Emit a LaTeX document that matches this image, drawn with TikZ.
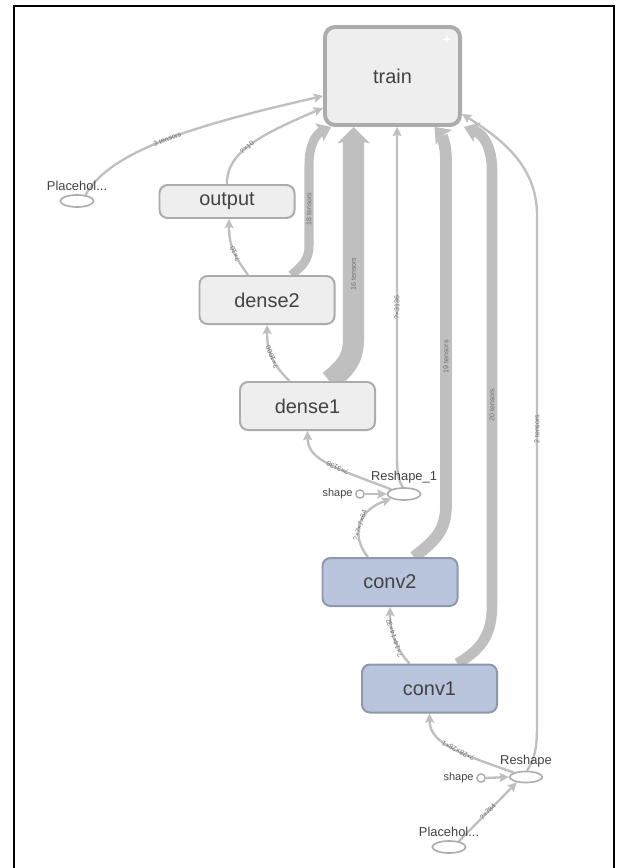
\documentclass[tikz,border=0pt]{standalone}
\usepackage{fontspec}
\setmainfont{Liberation Sans}
\usepackage{tikz}
\usetikzlibrary{arrows.meta,shapes.geometric,calc}
\pgfdeclarelayer{edges}
\pgfsetlayers{edges,main}

\definecolor{edgegray}{HTML}{BFBFBF}
\definecolor{boxfill}{HTML}{EEEEEE}
\definecolor{boxline}{HTML}{ACACAC}
\definecolor{convfill}{HTML}{B9C4DD}
\definecolor{convline}{HTML}{8E98AD}
\definecolor{txtgray}{HTML}{424242}
\definecolor{lblgray}{HTML}{707070}

\tikzset{
  metabox/.style={draw=boxline, fill=boxfill, line width=1.7pt, rounded corners=0.24cm,
    minimum width=4.05cm, minimum height=1.44cm, text=txtgray, font=\fontsize{17}{17}\selectfont},
  convbox/.style={metabox, draw=convline, fill=convfill},
  opnode/.style={ellipse, draw=boxline, line width=1.4pt, minimum width=1cm, minimum height=0.36cm, inner sep=0pt},
  shapenode/.style={circle, draw=boxline, line width=1.2pt, minimum size=0.25cm, inner sep=0pt},
  oplabel/.style={text=txtgray, font=\fontsize{11}{11}\selectfont, inner sep=1pt, label distance=2pt},
  shapelbl/.style={text=txtgray, font=\fontsize{9.4}{9.4}\selectfont, inner sep=1pt, label distance=1pt},
  flow/.style={draw=edgegray, line width=2pt, -{Stealth[length=8pt,width=8pt,inset=1.5pt,line width=0pt]}},
  bundle/.style={draw=edgegray, line width=#1},
  elabel/.style={text=lblgray, font=\fontsize{6}{6}\selectfont, sloped, allow upside down, inner sep=0pt},
}

\begin{document}
\begin{tikzpicture}[x=0.03cm,y=-0.03cm]
  \useasboundingbox (0,0) rectangle (618,868);
  % frame
  \draw[line width=1.7pt] (14,868) -- (14,6) -- (614,6) -- (614,868);
  % groups
  \node[metabox, minimum height=2.94cm, line width=3.4pt, rounded corners=0.3cm] (train) at (392.5,76) {train};
  \node[text=white, font=\bfseries\fontsize{12}{12}\selectfont] (plus) at (447,40) {+};
  \node[metabox, minimum height=0.99cm] (output) at (227,201.5) {output};
  \node[metabox] (dense2) at (267,300) {dense2};
  \node[metabox] (dense1) at (307.5,406) {dense1};
  \node[convbox] (conv2) at (390,582) {conv2};
  \node[convbox] (conv1) at (429.5,688.5) {conv1};
  % ops
  \node[opnode, label={[oplabel]above:Placehol...}] (ph1) at (77,201) {};
  \node[opnode, label={[oplabel]above:Reshape\_1}] (rs1) at (404,494) {};
  \node[shapenode, label={[shapelbl]left:shape}] (shp1) at (360,494) {};
  \node[opnode, minimum width=0.98cm, minimum height=0.33cm, label={[oplabel]above:Reshape}] (rs) at (526,777) {};
  \node[shapenode, label={[shapelbl]left:shape}] (shp2) at (481,778) {};
  \node[opnode, label={[oplabel]above:Placehol...}] (ph2) at (449,847) {};

  \begin{pgfonlayer}{edges}
  % thin edges
  \draw[flow] (ph1.35) .. controls (110,150) and (200,124) .. ($(train.west)+(0,20)$)
    node[elabel, pos=0.5] {3 tensors};
  \draw[flow] (output.north) .. controls (226,152) and (262,134) .. ($(train.west)+(0,32)$)
    node[elabel, pos=0.45] {?×10};
  \draw[flow] ($(dense2.north)+(-19,0)$) .. controls (236,258) and (229,248) .. ($(output.south)+(2,0)$)
    node[elabel, pos=0.45] {?×10};
  \draw[flow] ($(dense1.north)+(-18,0)$) .. controls (273,365) and (267,352) .. (dense2.south)
    node[elabel, pos=0.5] {?×1000};
  \draw[flow] (rs1.160) .. controls (335,468) and (308,460) .. (dense1.south)
    node[elabel, pos=0.4] {?×3136};
  \draw[flow] (rs1.100) .. controls (398,480) and (397,472) .. (397,455)
    -- node[elabel, pos=0.45] {?×3136} ($(train.south)+(4.5,0)$);
  \draw[flow] (shp1.east) -- (rs1.west);
  \draw[flow] ($(conv2.north)+(-22,0)$) .. controls (352,538) and (355,512) .. (rs1.-160)
    node[elabel, pos=0.5] {?×7×7×64};
  \draw[flow] ($(conv1.north)+(-20,0)$) .. controls (395,648) and (390,630) .. (conv2.south)
    node[elabel, pos=0.5] {?×14×14×32};
  \draw[flow] (rs.160) .. controls (465,755) and (430,745) .. (conv1.south)
    node[elabel, pos=0.45] {?×28×28×1};
  \draw[flow] (shp2.east) -- (rs.west);
  \draw[flow] (ph2.30) -- node[elabel, pos=0.5] {?×784} (rs.-150);
  \draw[flow] (rs.80) .. controls (535,758) and (537,748) .. (537,725)
    -- node[elabel, pos=0.58] {2 tensors} (537,215)
    .. controls (537,165) and (500,138) .. ($(train.east)+(0,38)$);
  % thick edges
  \draw[bundle=7.7pt, -{Stealth[length=11pt,width=17pt,inset=2pt,line width=0pt]}]
    ($(dense2.north east)+(-44,0)$) .. controls (303,265) and (309,260) .. (309,245)
    -- node[elabel, pos=0.45] {18 tensors} (309,165)
    .. controls (309,142) and (318,133) .. ($(train.south west)+(8,0)$);
  \draw[bundle=18pt, -{Stealth[length=14pt,width=28pt,inset=3pt,line width=0pt]}]
    ($(dense1.north)+(22,0)$) .. controls (345,368) and (353,360) .. (353.5,340)
    -- node[elabel, pos=0.31] {16 tensors} ($(train.south)+(-39,0)$);
  \draw[bundle=10pt, -{Stealth[length=12pt,width=19pt,inset=2pt,line width=0pt]}]
    ($(conv2.north)+(24,0)$) .. controls (436,540) and (446,530) .. (446,505)
    -- node[elabel, pos=0.43] {19 tensors} (446,160)
    .. controls (446,142) and (440,133) .. ($(train.south)+(42,0)$);
  \draw[bundle=9pt, -{Stealth[length=12pt,width=18pt,inset=2pt,line width=0pt]}]
    ($(conv1.north)+(28,0)$) .. controls (484,648) and (492,632) .. (492,605)
    -- node[elabel, pos=0.46] {20 tensors} (492,170)
    .. controls (492,150) and (485,135) .. ($(train.south east)+(2,0)$);
  \end{pgfonlayer}
\end{tikzpicture}
\end{document}
